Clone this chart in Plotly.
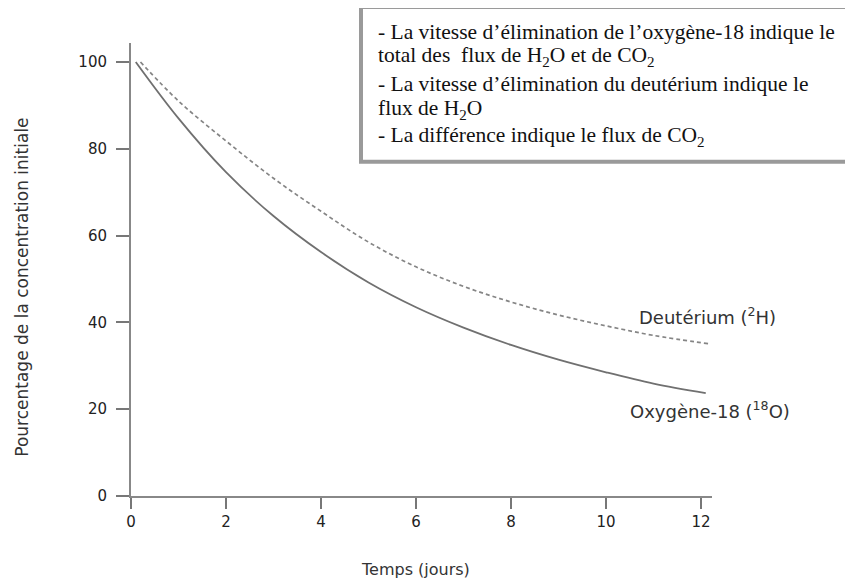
import plotly.graph_objects as go

# Data
o18_x = [0.1, 1, 2, 3, 4, 5, 6, 7, 8, 9, 10, 11, 12.1]
o18_y = [100, 87.0, 74.6, 64.5, 56.2, 49.2, 43.5, 38.8, 34.8, 31.4, 28.5, 25.9, 23.7]
h2_x = [0.2, 1, 2, 3, 4, 5, 6, 7, 8, 9, 10, 11, 12.15]
h2_y = [100, 91.0, 81.8, 73.2, 65.6, 58.5, 52.8, 48.3, 44.7, 41.7, 39.2, 37.0, 35.1]
x_ticks = [0, 2, 4, 6, 8, 10, 12]
y_ticks = [0, 20, 40, 60, 80, 100]
box_lines = [
    "- La vitesse d’élimination de l’oxygène-18 indique le",
    "total des  flux de H<sub>2</sub>O et de CO<sub>2</sub>",
    "- La vitesse d’élimination du deutérium indique le",
    "flux de H<sub>2</sub>O",
    "- La différence indique le flux de CO<sub>2</sub>",
]

OFF = 8  # page body margin
W, H = 853 - OFF, 583 - OFF
L, R, T, B = 131 - OFF, 712 - OFF, 43 - OFF, 496.5 - OFF

def px(x):
    return (x - OFF - L) / (R - L)

def py(y):
    return (B - (y - OFF)) / (B - T)

fig = go.Figure()
fig.add_trace(go.Scatter(x=h2_x, y=h2_y, mode="lines", line=dict(color="#858585", width=1.7, dash="4px,3px", shape="spline"), hoverinfo="skip"))
fig.add_trace(go.Scatter(x=o18_x, y=o18_y, mode="lines", line=dict(color="#707070", width=1.8, shape="spline"), hoverinfo="skip"))

tickfont = dict(family="DejaVu Sans", size=15, color="#222222")
fig.update_xaxes(range=[0, (R - L) / 47.5], tickvals=x_ticks, ticktext=[str(v) for v in x_ticks],
                 ticks="outside", ticklen=11, tickwidth=1.5, tickcolor="#777777",
                 showline=True, linecolor="#888888", linewidth=2, showgrid=False, zeroline=False,
                 tickfont=tickfont)
fig.update_yaxes(range=[0, (B - T) / 4.345], tickvals=y_ticks, ticktext=[str(v) for v in y_ticks],
                 ticks="outside", ticklen=13, tickwidth=1.5, tickcolor="#777777",
                 showline=True, linecolor="#888888", linewidth=2, showgrid=False, zeroline=False,
                 tickfont=tickfont, ticklabelstandoff=6)

lab = dict(family="DejaVu Sans", size=17, color="#333333")
annotations = [
    dict(text="Temps (jours)", x=px(415), y=py(570), xref="paper", yref="paper", showarrow=False,
         font=dict(family="DejaVu Sans", size=16, color="#333333"), xanchor="center", yanchor="middle"),
    dict(text="Pourcentage de la concentration initiale", x=px(22), y=py(288), xref="paper", yref="paper",
         showarrow=False, textangle=-90, font=lab, xanchor="center", yanchor="middle"),
    dict(text="Deutérium (<sup>2</sup>H)", x=px(707), y=py(316), xref="paper", yref="paper", showarrow=False,
         font=dict(family="DejaVu Sans", size=18, color="#333333"), xanchor="center", yanchor="middle"),
    dict(text="Oxygène-18 (<sup>18</sup>O)", x=px(710), y=py(410), xref="paper", yref="paper", showarrow=False,
         font=dict(family="DejaVu Sans", size=18, color="#333333"), xanchor="center", yanchor="middle"),
]
line_y = [32, 57, 84, 110, 137]
for t, yy in zip(box_lines, line_y):
    annotations.append(dict(text=t, x=px(376), y=py(yy), xref="paper", yref="paper", showarrow=False,
                            font=dict(family="Liberation Serif", size=21.5, color="#111111"),
                            xanchor="left", yanchor="middle"))

fig.add_shape(type="rect", xref="paper", yref="paper", x0=px(361), x1=px(870), y0=py(162), y1=py(7),
              line=dict(color="#9a9a9a", width=4), fillcolor="white", layer="above")

fig.update_layout(width=W, height=H, margin=dict(l=L, r=W - R, t=T, b=H - B),
                  paper_bgcolor="white", plot_bgcolor="white", showlegend=False,
                  annotations=annotations)
fig.write_html("out.html")
